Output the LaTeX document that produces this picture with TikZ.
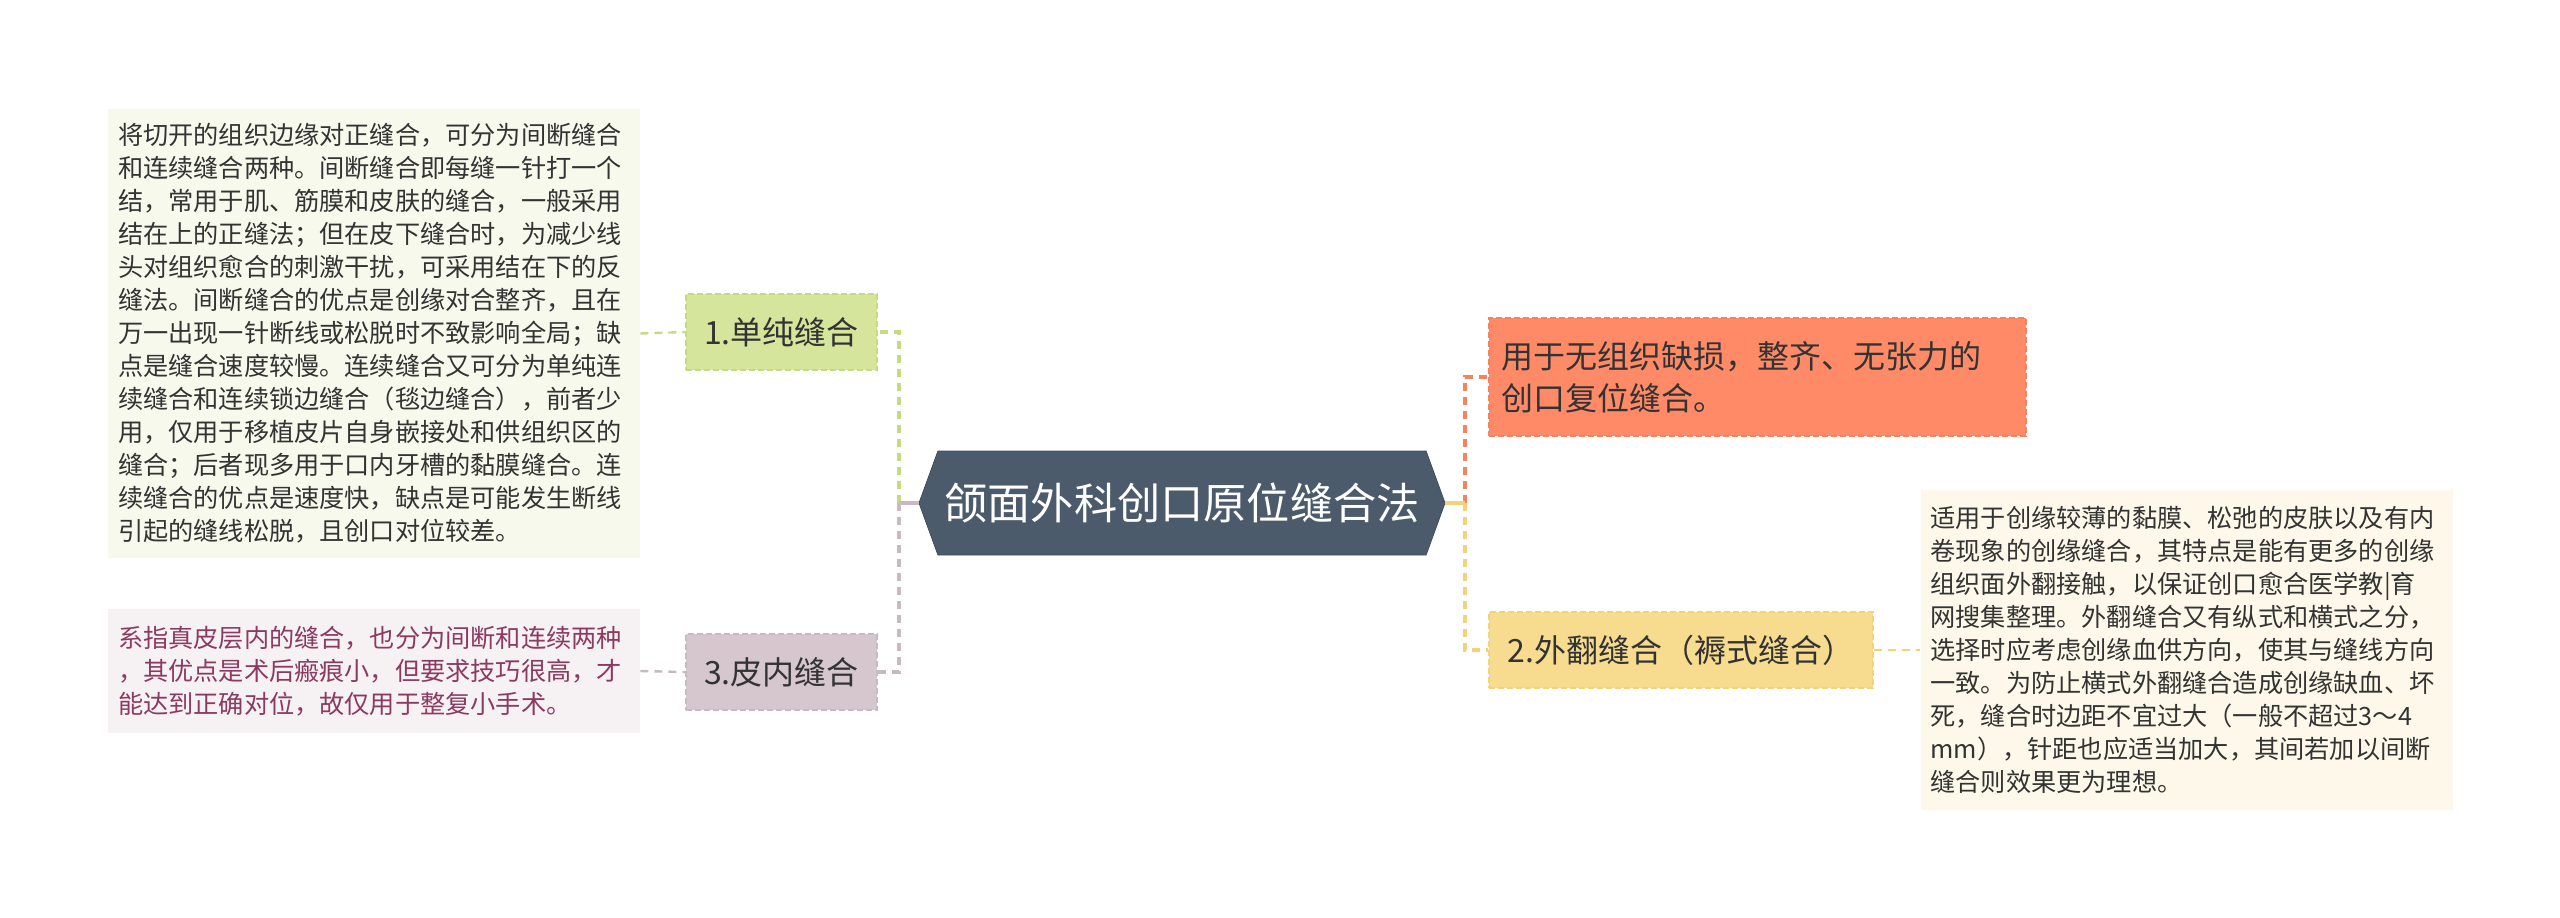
\documentclass[tikz,border=0pt]{standalone}
\usepackage{fontspec}
\setmainfont{Noto Sans CJK SC}
\usetikzlibrary{shapes.symbols}
\definecolor{rootfill}{HTML}{4B5B6B}
\definecolor{inkdark}{HTML}{333333}
\definecolor{greenfill}{HTML}{D5E59C}
\definecolor{greenline}{HTML}{C6DA84}
\definecolor{greennote}{HTML}{F6F9EC}
\definecolor{mauvefill}{HTML}{D6C6CE}
\definecolor{mauveline}{HTML}{C8BAC2}
\definecolor{mauvenote}{HTML}{F6F1F3}
\definecolor{plumtext}{HTML}{8B3A62}
\definecolor{orangefill}{HTML}{FF8A67}
\definecolor{orangeline}{HTML}{F7825F}
\definecolor{yellowfill}{HTML}{F7DC90}
\definecolor{yellowline}{HTML}{F2D37A}
\definecolor{yellownote}{HTML}{FDF8E9}
\tikzset{
  suture map/.style={
    root topic/.style={signal, signal to=west and east, signal pointer angle=140,
      fill=rootfill, draw=rootfill!85!black, text=white, inner sep=0pt,
      minimum width=263pt, minimum height=52pt,
      font={\fontsize{21.6}{26}\selectfont}},
    topic/.style={rectangle, line width=0.8pt, dash pattern=on 3pt off 1.5pt,
      minimum height=38pt, inner xsep=0pt, text=inkdark,
      font={\fontsize{16}{21}\selectfont}},
    note box/.style={rectangle, inner xsep=5pt, inner ysep=0pt, align=left,
      text width=256pt, text=inkdark,
      font={\fontsize{12.6}{16.5}\selectfont}},
    link/.style={line width=1.2pt, dash pattern=on 4pt off 3pt},
    trunk/.style={line width=2pt, dash pattern=on 4pt off 3pt},
    stub/.style={line width=2pt},
  }
}

\begin{document}
\begin{tikzpicture}[suture map, x=0.5pt, y=-0.5pt]
    \useasboundingbox[fill=white] (0,0) rectangle (2560,917);

    \node[root topic] (root) at (1182,503) {颌面外科创口原位缝合法};
    \coordinate (lhub) at ([xshift=-10pt]root.west);
    \coordinate (rhub) at ([xshift=10pt]root.east);

    % left branches
    \node[topic, fill=greenfill, draw=greenline, minimum width=95.5pt] (simple) at (781.5,332) {1.单纯缝合};
    \node[topic, fill=mauvefill, draw=mauveline, minimum width=95.5pt] (intra) at (781.5,672) {3.皮内缝合};
    \node[note box, fill=greennote, minimum height=224.5pt] (simplenote) at (374,333.5) {%
        将切开的组织边缘对正缝合，可分为间断缝合\\
        和连续缝合两种。间断缝合即每缝一针打一个\\
        结，常用于肌、筋膜和皮肤的缝合，一般采用\\
        结在上的正缝法；但在皮下缝合时，为减少线\\
        头对组织愈合的刺激干扰，可采用结在下的反\\
        缝法。间断缝合的优点是创缘对合整齐，且在\\
        万一出现一针断线或松脱时不致影响全局；缺\\
        点是缝合速度较慢。连续缝合又可分为单纯连\\
        续缝合和连续锁边缝合（毯边缝合），前者少\\
        用，仅用于移植皮片自身嵌接处和供组织区的\\
        缝合；后者现多用于口内牙槽的黏膜缝合。连\\
        续缝合的优点是速度快，缺点是可能发生断线\\
        引起的缝线松脱，且创口对位较差。};
    \node[note box, fill=mauvenote, text=plumtext, minimum height=62pt] (intranote) at (374,671) {%
        系指真皮层内的缝合，也分为间断和连续两种\\
        ，其优点是术后瘢痕小，但要求技巧很高，才\\
        能达到正确对位，故仅用于整复小手术。};

    % right branches
    \node[topic, fill=orangefill, draw=orangeline, minimum width=268.5pt, minimum height=59pt,
        align=left, text width=256pt, inner xsep=6pt] (tidy) at (1757.5,377) {%
        用于无组织缺损，整齐、无张力的\\创口复位缝合。};
    \node[topic, fill=yellowfill, draw=yellowline, minimum width=192pt] (everted) at (1681,650) {2.外翻缝合（褥式缝合）};
    \node[note box, fill=yellownote, minimum height=160pt] (evertednote) at (2186.5,650) {%
        适用于创缘较薄的黏膜、松弛的皮肤以及有内\\
        卷现象的创缘缝合，其特点是能有更多的创缘\\
        组织面外翻接触，以保证创口愈合医学教|育\\
        网搜集整理。外翻缝合又有纵式和横式之分，\\
        选择时应考虑创缘血供方向，使其与缝线方向\\
        一致。为防止横式外翻缝合造成创缘缺血、坏\\
        死，缝合时边距不宜过大（一般不超过3～4\\
        mm），针距也应适当加大，其间若加以间断\\
        缝合则效果更为理想。};

    % connectors
    \draw[trunk, greenline] (lhub) |- (simple.east);
    \draw[trunk, mauveline] (lhub) |- (intra.east);
    \draw[stub, mauveline] (root.west) -- (lhub);
    \draw[link, greenline] (simplenote.east) -- (simple.west);
    \draw[link, mauveline] (intranote.east) -- (intra.west);

    \draw[trunk, orangeline] (rhub) |- (tidy.west);
    \draw[trunk, yellowline] (rhub) |- (everted.west);
    \draw[stub, yellowline] (root.east) -- (rhub);
    \draw[link, yellowline] (everted.east) -- (evertednote.west);
\end{tikzpicture}
\end{document}
